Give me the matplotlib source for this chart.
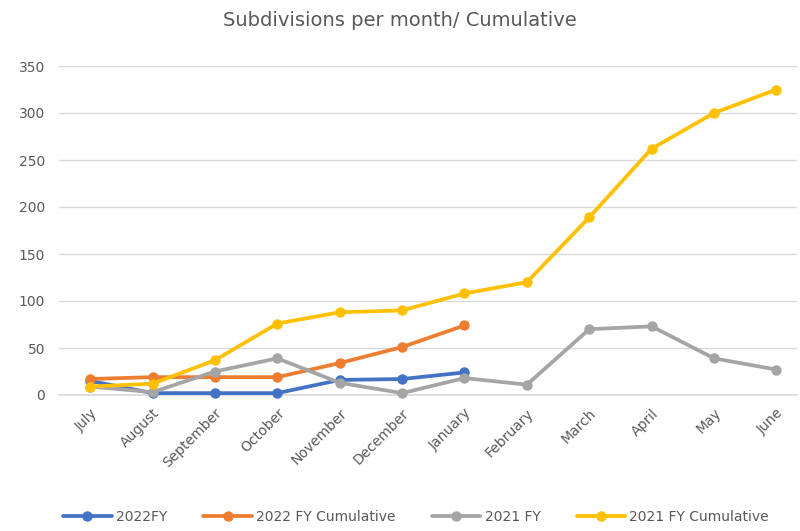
import matplotlib.pyplot as plt

months = ['July', 'August', 'September', 'October', 'November', 'December',
          'January', 'February', 'March', 'April', 'May', 'June']
fy2022 = [15, 2, 2, 2, 16, 17, 24]
fy2022_cum = [17, 19, 19, 19, 34, 51, 74]
fy2021 = [9, 3, 25, 39, 13, 2, 18, 11, 70, 73, 39, 27]
fy2021_cum = [9, 12, 37, 76, 88, 90, 108, 120, 189, 262, 300, 325]

series = [
    ('2022FY', fy2022, '#4472C4'),
    ('2022 FY Cumulative', fy2022_cum, '#ED7D31'),
    ('2021 FY', fy2021, '#A5A5A5'),
    ('2021 FY Cumulative', fy2021_cum, '#FFC000'),
]

fig = plt.figure(figsize=(8, 5.31), dpi=100)
W, H = 800, 531
ax = fig.add_axes([59 / W, 1 - 395 / H, (797 - 59) / W, (395 - 66) / H])

for label, vals, color in series:
    ax.plot(range(len(vals)), vals, color=color, lw=2.7, marker='o',
            markersize=6.5, label=label, solid_capstyle='round', clip_on=False)

ax.set_xlim(-0.5, 11.33)
ax.set_ylim(0, 350)
ax.set_yticks(range(0, 351, 50))
ax.set_xticks(range(len(months)))
ax.set_xticklabels(months, rotation=45, ha='right', rotation_mode='anchor')
ax.tick_params(length=0, colors='#595959', labelsize=10)
ax.tick_params(axis='x', pad=8)
ax.tick_params(axis='y', pad=10)
ax.grid(axis='y', color='#D9D9D9', lw=1)
ax.axhline(0, color='#D9D9D9', lw=1.2, zorder=0.5, clip_on=False)
ax.set_axisbelow(True)
for s in ax.spines.values():
    s.set_visible(False)

fig.suptitle('Subdivisions per month/ Cumulative', y=1 - 20 / H, va='center',
             fontsize=14, color='#595959')
leg = fig.legend(loc='center', bbox_to_anchor=(0.52, 1 - 517 / H), ncol=4,
                 frameon=False, fontsize=10, handlelength=3.5,
                 columnspacing=2.6, handletextpad=0.3)
for t in leg.get_texts():
    t.set_color('#595959')

fig.savefig('out.png')
